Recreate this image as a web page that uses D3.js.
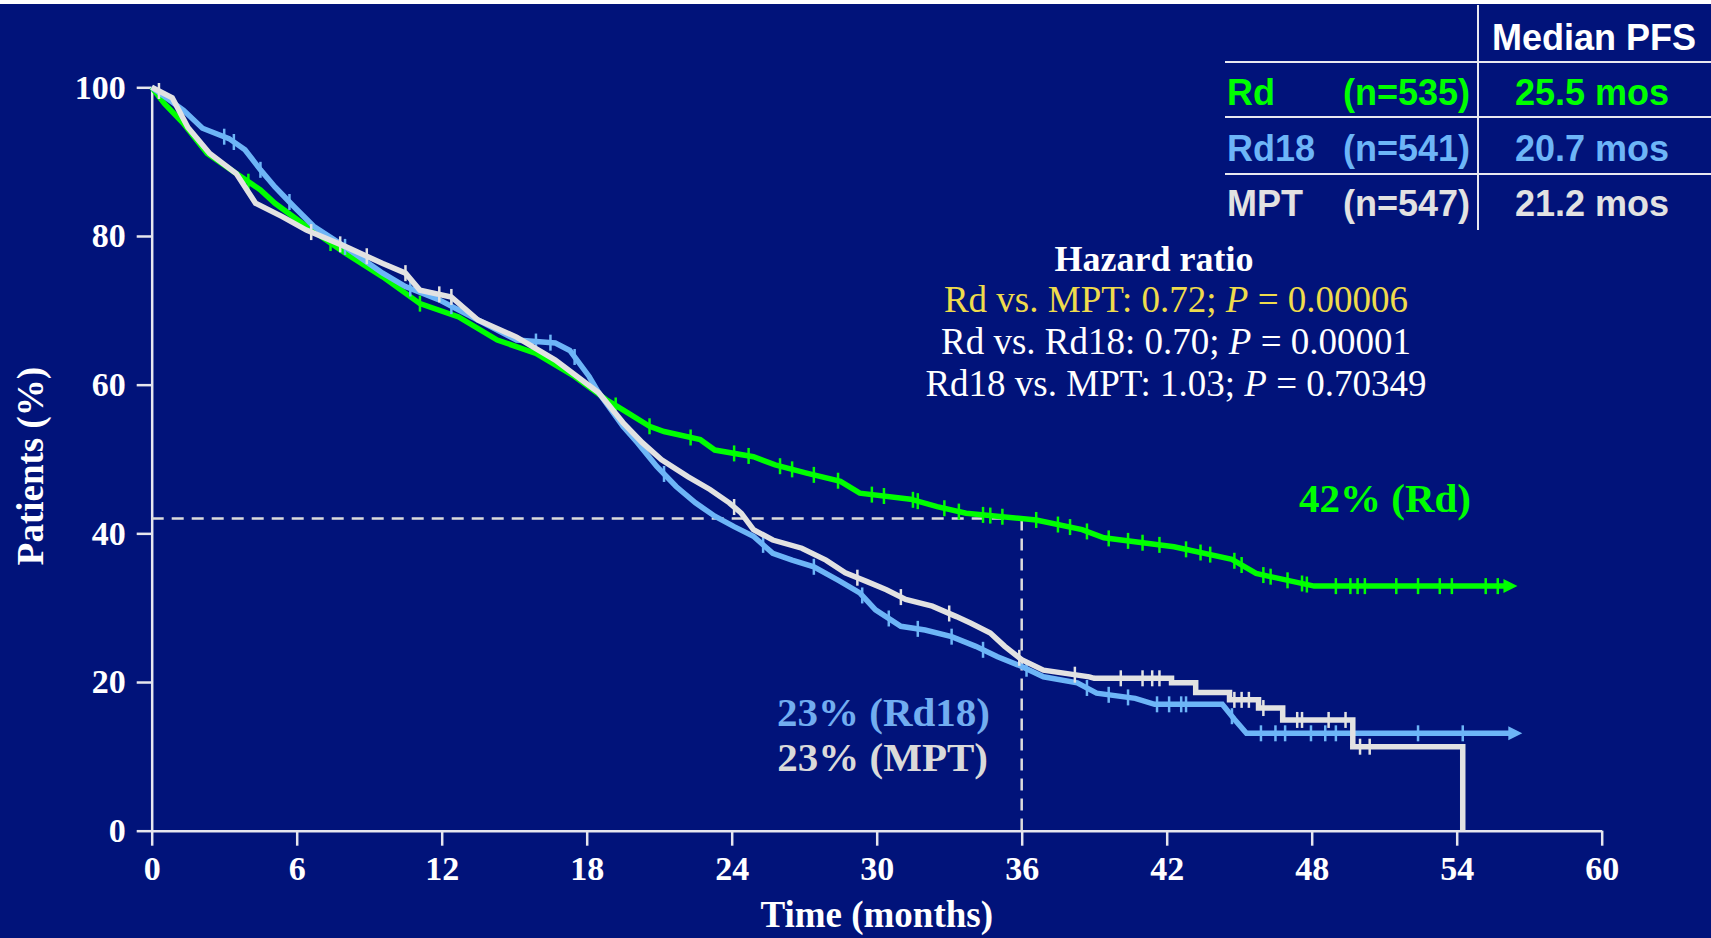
<!DOCTYPE html>
<html>
<head>
<meta charset="utf-8">
<script src="https://cdn.jsdelivr.net/npm/d3@7"></script>
<style>
    html, body { margin: 0; padding: 0; background: #01137a; }
    svg { display: block; }
</style>
</head>
<body>
<div id="chart"></div>
<script>
// axis ticks
const xTicks = [0, 6, 12, 18, 24, 30, 36, 42, 48, 54, 60];
const yTicks = [0, 20, 40, 60, 80, 100];

// Kaplan-Meier curves: [month, % patients]
const rdPoints = [[0,100],[0.53,97.8],[1.3,95.2],[2.3,91.1],[3.5,88.4],[4.5,86.2],[5.1,84.4],[6.4,81.3],[8.0,77.7],[9.56,74.5],[11.1,70.9],[12.7,69.1],[14.3,66.0],[15.9,64.2],[17.5,61.1],[18.8,58.0],[19.5,56.6],[20.6,54.4],[21.2,53.7],[22.7,52.6],[23.3,51.2],[24.9,50.3],[25.8,49.2],[27.1,48.1],[28.5,47.0],[29.3,45.4],[31.4,44.6],[32.5,43.6],[33.7,42.7],[36.6,41.8],[38.5,40.5],[39.4,39.4],[42.3,38.2],[44.7,36.5],[45.7,34.6],[48.1,32.9],[56.1,32.9]];
const rd18Points = [[0,100],[1.32,96.9],[2.1,94.5],[3.2,93.1],[3.86,91.6],[4.5,88.9],[5.1,86.6],[5.9,83.9],[6.7,81.3],[7.97,78.6],[9.56,75.0],[10.5,73.2],[11.9,71.4],[13.5,68.7],[15.1,66.0],[16.7,65.6],[17.3,64.6],[18.1,61.1],[18.5,58.9],[19.5,54.4],[20.1,52.2],[20.9,49.0],[21.7,46.3],[22.5,44.1],[23.3,42.3],[24.1,40.9],[24.9,39.6],[25.7,37.3],[26.5,36.4],[27.4,35.5],[28.4,33.7],[29.3,32.0],[29.95,29.7],[31.0,27.5],[32.0,27.0],[33.1,26.1],[34.1,24.8],[35.0,23.4],[36.0,22.1],[36.9,20.7],[38.3,19.9],[39.1,18.5],[40.7,17.8],[41.5,17.0],[44.3,17.0],[44.8,15.0],[45.3,13.1],[56.3,13.1]];
const mptPoints = [[0,100],[0.85,98.6],[1.5,94.6],[2.4,91.1],[3.5,88.4],[4.3,84.4],[5.4,82.6],[6.4,80.8],[8.0,78.6],[9.56,76.3],[10.5,75.0],[11.1,72.7],[12.4,71.8],[13.5,68.7],[15.1,66.4],[16.7,63.3],[18.5,58.9],[19.5,54.9],[20.3,52.2],[21.1,49.9],[22.2,47.6],[23.1,45.9],[23.9,44.1],[24.4,42.7],[24.9,40.5],[25.7,39.1],[26.9,38.0],[27.9,36.4],[28.7,34.7],[29.6,33.5],[30.4,32.4],[31.2,31.1],[32.3,30.2],[33.3,28.8],[33.9,27.9],[34.7,26.6],[35.3,24.8],[36.0,23.0],[36.9,21.6],[38.8,20.7],[39.0,20.5],[42.2,20.5],[42.2,19.9],[43.2,19.9],[43.2,18.6],[44.6,18.6],[44.6,17.6],[45.8,17.6],[45.8,16.5],[46.8,16.5],[46.8,14.9],[49.7,14.9],[49.7,11.3],[54.25,11.3],[54.25,0]];

// censoring marks (months)
const rdCensor = [4.0,7.4,11.1,19.2,20.6,22.3,24.1,24.7,26.0,26.5,27.4,28.4,29.8,30.3,31.5,31.7,32.8,33.4,34.4,34.7,35.2,36.6,37.5,38.0,38.7,39.6,40.4,41.0,41.7,42.8,43.4,43.8,44.8,45.1,46.0,46.3,47.0,47.6,47.8,49.0,49.6,49.9,50.2,51.5,52.4,53.3,53.8,55.2,55.7];
const rd18Censor = [3.0,3.4,4.5,5.7,8.0,10.7,12.4,15.9,16.5,17.5,21.2,25.3,27.4,29.4,30.5,31.7,33.1,34.4,36.2,38.7,39.6,40.4,41.6,42.1,42.6,42.8,44.7,45.9,46.5,46.9,47.97,48.56,49.0,52.4,54.25];
const mptCensor = [0.3,6.6,7.8,8.9,10.5,11.9,12.4,24.1,29.2,31.0,33.0,35.9,38.2,40.1,41.0,41.4,41.7,44.8,45.1,45.4,46.0,47.4,47.6,48.7,49.4,50.0,50.4];

// table + annotations
const arms = ["Rd", "Rd18", "MPT"];
const armN = [535, 541, 547];
const medianPfs = [25.5, 20.7, 21.2];
const hazardLines = [
    ["Rd vs. MPT: 0.72; ", "0.00006"],
    ["Rd vs. Rd18: 0.70; ", "0.00001"],
    ["Rd18 vs. MPT: 1.03; ", "0.70349"]
];
const landmarkMonth = 36;
const landmarkPct = 42;
const landmarkLabels = ["42% (Rd)", "23% (Rd18)", "23% (MPT)"];

const width = 1711;
const height = 938;
const bg = "#01137a";
const axisColor = "#e6e6ee";
const armColors = ["#00ff00", "#6db5f7", "#e2e2e2"];
const serif = "'Liberation Serif', 'Times New Roman', serif";
const sans = "'Liberation Sans', Arial, sans-serif";

const svg = d3.select("#chart").append("svg")
    .attr("width", width)
    .attr("height", height);

svg.append("rect").attr("width", width).attr("height", height).attr("fill", bg);
svg.append("rect").attr("width", width).attr("height", 4).attr("fill", "#ffffff");

const x = d3.scaleLinear().domain([0, 60]).range([151.7, 1601.7]);
const y = d3.scaleLinear().domain([0, 100]).range([830.7, 87.3]);

// axes
const xAxis = svg.append("g")
    .attr("transform", "translate(0," + y(0) + ")")
    .call(d3.axisBottom(x).tickValues(xTicks).tickSize(15).tickSizeOuter(0));
const yAxis = svg.append("g")
    .attr("transform", "translate(" + x(0) + ",0)")
    .call(d3.axisLeft(y).tickValues(yTicks).tickSize(15).tickSizeOuter(0).tickPadding(11));

[xAxis, yAxis].forEach(function(ax) {
    ax.select(".domain").attr("stroke", axisColor).attr("stroke-width", 2.5);
    ax.selectAll(".tick line").attr("stroke", axisColor).attr("stroke-width", 2.5);
    ax.selectAll(".tick text")
        .attr("fill", "#ffffff")
        .style("font-family", serif)
        .style("font-weight", "bold")
        .style("font-size", "34px");
});
xAxis.selectAll(".tick text").attr("y", 49).attr("dy", 0);

svg.append("text")
    .attr("x", (x(0) + x(60)) / 2)
    .attr("y", 927)
    .attr("text-anchor", "middle")
    .attr("fill", "#ffffff")
    .style("font-family", serif).style("font-weight", "bold").style("font-size", "37px")
    .text("Time (months)");

svg.append("text")
    .attr("transform", "translate(43,466) rotate(-90)")
    .attr("text-anchor", "middle")
    .attr("fill", "#ffffff")
    .style("font-family", serif).style("font-weight", "bold").style("font-size", "37px")
    .text("Patients (%)");

// landmark dashed guides
svg.append("line")
    .attr("x1", x(0)).attr("x2", x(landmarkMonth))
    .attr("y1", y(landmarkPct)).attr("y2", y(landmarkPct))
    .attr("stroke", "#dcdcdc").attr("stroke-width", 2.5).attr("stroke-dasharray", "12,8");
svg.append("line")
    .attr("x1", x(landmarkMonth)).attr("x2", x(landmarkMonth))
    .attr("y1", y(landmarkPct)).attr("y2", y(0))
    .attr("stroke", "#dcdcdc").attr("stroke-width", 2.5).attr("stroke-dasharray", "12,8");

// curves
function valueAt(points, t) {
    for (let i = 1; i < points.length; i++) {
        let a = points[i - 1], b = points[i];
        if (t >= a[0] && t <= b[0]) {
            if (b[0] === a[0]) return a[1];
            return a[1] + (b[1] - a[1]) * (t - a[0]) / (b[0] - a[0]);
        }
    }
    return points[points.length - 1][1];
}

const line = d3.line()
    .x(function(d) { return x(d[0]); })
    .y(function(d) { return y(d[1]); });

const series = [
    { points: rdPoints, censor: rdCensor, color: armColors[0], arrow: true },
    { points: rd18Points, censor: rd18Censor, color: armColors[1], arrow: true },
    { points: mptPoints, censor: mptCensor, color: armColors[2], arrow: false }
];

series.forEach(function(s) {
    let g = svg.append("g");
    g.append("path")
        .attr("d", line(s.points))
        .attr("fill", "none")
        .attr("stroke", s.color)
        .attr("stroke-width", 5.5)
        .attr("stroke-linejoin", "miter");
    g.selectAll("line.censor")
        .data(s.censor)
        .enter()
        .append("line")
        .attr("class", "censor")
        .attr("x1", function(t) { return x(t); })
        .attr("x2", function(t) { return x(t); })
        .attr("y1", function(t) { return y(valueAt(s.points, t)) - 8; })
        .attr("y2", function(t) { return y(valueAt(s.points, t)) + 8; })
        .attr("stroke", s.color)
        .attr("stroke-width", 2.5);
    if (s.arrow) {
        let end = s.points[s.points.length - 1];
        let ex = x(end[0]), ey = y(end[1]);
        g.append("path")
            .attr("d", "M" + (ex - 4) + "," + (ey - 7) + "L" + (ex + 10) + "," + ey + "L" + (ex - 4) + "," + (ey + 7) + "Z")
            .attr("fill", s.color);
    }
});

// landmark labels
const labelPos = [
    { x: 1299, y: 512, anchor: "start" },
    { x: 990, y: 726, anchor: "end" },
    { x: 988, y: 771, anchor: "end" }
];
svg.selectAll("text.landmark")
    .data(landmarkLabels)
    .enter()
    .append("text")
    .attr("class", "landmark")
    .attr("x", function(d, i) { return labelPos[i].x; })
    .attr("y", function(d, i) { return labelPos[i].y; })
    .attr("text-anchor", function(d, i) { return labelPos[i].anchor; })
    .attr("fill", function(d, i) { return i === 0 ? armColors[0] : (i === 1 ? "#72adf0" : "#dadada"); })
    .style("font-family", serif).style("font-weight", "bold").style("font-size", "41px")
    .text(function(d) { return d; });

// hazard ratio block
svg.append("text")
    .attr("x", 1154).attr("y", 271)
    .attr("text-anchor", "middle")
    .attr("fill", "#ffffff")
    .style("font-family", serif).style("font-weight", "bold").style("font-size", "36px")
    .text("Hazard ratio");

hazardLines.forEach(function(h, i) {
    let t = svg.append("text")
        .attr("x", 1176).attr("y", 312 + i * 42)
        .attr("text-anchor", "middle")
        .attr("fill", i === 0 ? "#efdb4c" : "#ffffff")
        .style("font-family", serif).style("font-size", "37px");
    t.append("tspan").text(h[0]);
    t.append("tspan").style("font-style", "italic").text("P");
    t.append("tspan").text(" = " + h[1]);
});

// median PFS table
const tableColor = "#e8e8f0";
svg.append("line")
    .attr("x1", 1478).attr("x2", 1478).attr("y1", 5).attr("y2", 230)
    .attr("stroke", tableColor).attr("stroke-width", 2);
[62, 117, 174].forEach(function(ly) {
    svg.append("line")
        .attr("x1", 1225).attr("x2", width).attr("y1", ly).attr("y2", ly)
        .attr("stroke", tableColor).attr("stroke-width", 2);
});

svg.append("text")
    .attr("x", 1594).attr("y", 50)
    .attr("text-anchor", "middle")
    .attr("fill", "#ffffff")
    .style("font-family", sans).style("font-weight", "bold").style("font-size", "36px")
    .text("Median PFS");

const rowBase = [105, 161, 216];
arms.forEach(function(a, i) {
    let style = function(sel) {
        return sel.attr("fill", armColors[i])
            .style("font-family", sans).style("font-weight", "bold").style("font-size", "36px");
    };
    svg.append("text").attr("x", 1227).attr("y", rowBase[i]).call(style).text(a);
    svg.append("text").attr("x", 1470).attr("y", rowBase[i]).attr("text-anchor", "end")
        .call(style).text("(n=" + armN[i] + ")");
    svg.append("text").attr("x", 1592).attr("y", rowBase[i]).attr("text-anchor", "middle")
        .call(style).text(medianPfs[i].toFixed(1) + " mos");
});
</script>
</body>
</html>
